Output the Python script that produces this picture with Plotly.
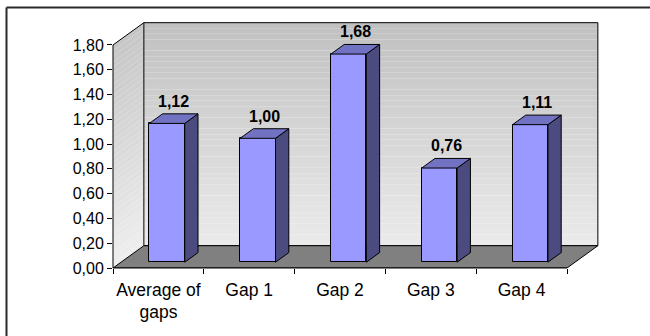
import plotly.graph_objects as go

# ---------------- data ----------------
categories = ["Average of<br>gaps", "Gap 1", "Gap 2", "Gap 3", "Gap 4"]
values = [1.12, 1.00, 1.68, 0.76, 1.11]
value_labels = ["1,12", "1,00", "1,68", "0,76", "1,11"]
y_tick_vals = [0.0, 0.2, 0.4, 0.6, 0.8, 1.0, 1.2, 1.4, 1.6, 1.8]
y_tick_text = ["0,00", "0,20", "0,40", "0,60", "0,80", "1,00", "1,20", "1,40", "1,60", "1,80"]

# ---------------- geometry / style ----------------
W, H = 650, 336
M_L, M_R, M_T, M_B = 113, 49, 20, 68
PLOT_W = W - M_L - M_R
PLOT_H = H - M_T - M_B
CAT_PX = 90.8          # pixels per category
VAL_PX = 123.9         # pixels per value unit
n = len(categories)
YMAX = y_tick_vals[-1]
X_RANGE = [-0.5, -0.5 + PLOT_W / CAT_PX]
Y_RANGE = [0, PLOT_H / VAL_PX]
DX, DY = 0.34, 0.18     # 3-D depth offsets (data units)
F1, F2 = 0.26, 0.69     # bar depth fractions (front, back)
BAR_W = 0.39
BAR_OFF = -0.10         # front face left edge relative to category centre
ddx, ddy = (F2 - F1) * DX, (F2 - F1) * DY
base = F1 * DY

FRONT = "#9999FF"
TOP = "#7272C2"
SIDE = "#4B4B80"
FONT = "Liberation Sans, Arial, sans-serif"

fig = go.Figure()

# front faces of bars
lefts = [i + BAR_OFF for i in range(n)]
fig.add_trace(go.Bar(
    x=[l + BAR_W / 2 for l in lefts], y=values, base=base, width=BAR_W,
    marker=dict(color=FRONT, line=dict(color="black", width=1)),
    hoverinfo="skip", showlegend=False,
))

# side and top faces
for l, v in zip(lefts, values):
    r = l + BAR_W
    t = base + v
    fig.add_trace(go.Scatter(
        x=[r, r, r + ddx, r + ddx, r], y=[base, t, t + ddy, base + ddy, base],
        mode="lines", fill="toself", fillcolor=SIDE,
        line=dict(color="black", width=1), hoverinfo="skip", showlegend=False))
    fig.add_trace(go.Scatter(
        x=[l, r, r + ddx, l + ddx, l], y=[t, t, t + ddy, t + ddy, t],
        mode="lines", fill="toself", fillcolor=TOP,
        line=dict(color="black", width=1), hoverinfo="skip", showlegend=False))

shapes = []
# back wall gradient
NS = 40
x0b, x1b = -0.5 + DX, n - 0.5 + DX
for k in range(NS):
    ya = DY + YMAX * k / NS
    yb = DY + YMAX * (k + 1) / NS
    frac = (k + 0.5) / NS
    g = int(round(235 - (235 - 192) * frac))
    col = f"rgb({g},{g},{g})"
    shapes.append(dict(type="rect", xref="x", yref="y", x0=x0b, x1=x1b, y0=ya, y1=yb,
                       fillcolor=col, line=dict(width=0), layer="below"))
    # left wall strip
    gl = int(round(238 - (238 - 198) * frac))
    coll = f"rgb({gl},{gl},{gl})"
    a = YMAX * k / NS
    b = YMAX * (k + 1) / NS
    shapes.append(dict(type="path", xref="x", yref="y",
                       path=f"M -0.5,{a} L -0.5,{b} L {-0.5 + DX},{b + DY} L {-0.5 + DX},{a + DY} Z",
                       fillcolor=coll, line=dict(width=0), layer="below"))
# back wall outline
shapes.append(dict(type="rect", xref="x", yref="y", x0=x0b, x1=x1b, y0=DY, y1=DY + YMAX,
                   fillcolor="rgba(0,0,0,0)", line=dict(color="black", width=1), layer="below"))
# left wall top edge
shapes.append(dict(type="line", xref="x", yref="y", x0=-0.5, y0=YMAX, x1=-0.5 + DX, y1=YMAX + DY,
                   line=dict(color="black", width=1), layer="below"))
# floor
shapes.append(dict(type="path", xref="x", yref="y",
                   path=f"M -0.5,0 L {n - 0.5},0 L {n - 0.5 + DX},{DY} L {-0.5 + DX},{DY} Z",
                   fillcolor="#808080", line=dict(color="black", width=1), layer="below"))
# y axis line (paper-x so it is not clipped)
shapes.append(dict(type="line", xref="paper", yref="y", x0=0, x1=0, y0=0, y1=YMAX,
                   line=dict(color="black", width=1), layer="above"))
# x axis line
shapes.append(dict(type="line", xref="x", yref="paper", x0=-0.5, x1=n - 0.5, y0=0, y1=0,
                   line=dict(color="black", width=1), layer="above"))
# outer chart border (left and top)
bx = (6.5 - M_L) / PLOT_W
by = (H - M_B - 7.5) / PLOT_H
shapes.append(dict(type="line", xref="paper", yref="paper", x0=bx, x1=bx, y0=by, y1=-1,
                   line=dict(color="#2a2a2a", width=2), layer="above"))
shapes.append(dict(type="line", xref="paper", yref="paper", x0=bx, x1=2, y0=by, y1=by,
                   line=dict(color="#2a2a2a", width=2), layer="above"))

annotations = []
for l, v, txt in zip(lefts, values, value_labels):
    annotations.append(dict(
        x=l + (BAR_W + ddx) / 2, y=base + v + ddy, xref="x", yref="y",
        text=f"<b>{txt}</b>", showarrow=False, yanchor="bottom", yshift=2,
        font=dict(family=FONT, size=16, color="black")))

fig.update_layout(
    width=W, height=H,
    margin=dict(l=M_L, r=M_R, t=M_T, b=M_B, pad=0),
    paper_bgcolor="white", plot_bgcolor="white",
    shapes=shapes, annotations=annotations,
    bargap=0,
    xaxis=dict(range=X_RANGE, tickmode="array", tickvals=list(range(n)), ticktext=categories,
               ticks="", showgrid=False, zeroline=False, showline=False,
               ticklabelstandoff=9,
               tickfont=dict(family=FONT, size=17.5, color="black"),
               minor=dict(tickmode="array", tickvals=[i - 0.5 for i in range(n + 1)],
                          ticks="outside", ticklen=5, tickcolor="black", tickwidth=1, showgrid=False)),
    yaxis=dict(range=Y_RANGE, tickmode="array", tickvals=y_tick_vals, ticktext=y_tick_text,
               ticks="outside", ticklen=5, tickcolor="black", tickwidth=1,
               showgrid=False, zeroline=False, showline=False,
               tickfont=dict(family=FONT, size=16, color="black")),
)

fig.write_html("out.html")
